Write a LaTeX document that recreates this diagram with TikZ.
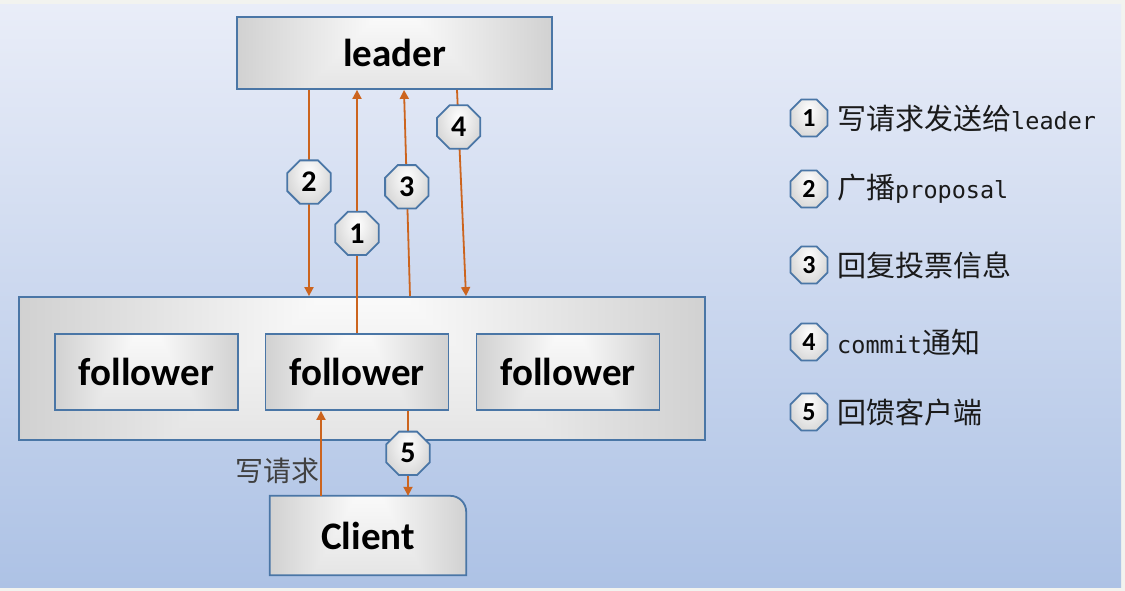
\documentclass[tikz,border=0pt]{standalone}
\usepackage{fontspec}
\setmainfont{Carlito}
\newfontfamily\cjk{Noto Sans CJK SC}
\newfontfamily\mono{DejaVu Sans Mono}
\usetikzlibrary{shapes.geometric,arrows.meta,calc,backgrounds}

\definecolor{pagecol}{RGB}{242,243,239}
\definecolor{paneltop}{RGB}{233,237,248}
\definecolor{panelbot}{RGB}{173,194,229}
\definecolor{edgeblue}{RGB}{74,118,166}
\definecolor{shadegray}{RGB}{166,166,166}
\definecolor{flow}{RGB}{204,100,30}
\definecolor{inktext}{RGB}{26,26,26}

% rectangular "path" gradient: white near the top centre, grey at the sides
% t = min(1, max(|x|/50, |y-38|/220)); grey level = 1 - 0.36 t
\pgfdeclarefunctionalshading{boxglow}{\pgfpoint{-50bp}{-50bp}}{\pgfpoint{50bp}{50bp}}{}{
  38 sub abs 220 div
  exch abs 50 div
  2 copy sub abs 3 1 roll add add 2 div
  dup 1 sub abs neg 1 add add 2 div
  0.36 mul neg 1 add
  dup dup
}

% round highlight for the numbered badges
\pgfdeclareradialshading{glow}{\pgfpoint{0bp}{0bp}}{color(0bp)=(white); color(50bp)=(shadegray)}

\tikzset{
  glowfill/.style args={#1/#2/#3}{path picture={
    \fill[shadegray] (path picture bounding box.south west) rectangle (path picture bounding box.north east);
    \shade[shading=glow] let \p1=(path picture bounding box.south west), \p2=(path picture bounding box.north east) in
      ({0.5*(\x1+\x2)}, {\y2-#3*(\y2-\y1)}) ellipse [x radius={#1*(\x2-\x1)}, y radius={#2*(\y2-\y1)}];
  }},
  box/.style={draw=edgeblue, line width=1.8pt, inner sep=0pt, shade, shading=boxglow},
  bigword/.style={font=\bfseries\fontsize{39}{45}\selectfont, text=black},
  flowline/.style={draw=flow, line width=1.8pt, -{Triangle[length=9pt,width=9pt]}},
  oct/.style={regular polygon, regular polygon sides=8, draw=edgeblue, line width=1.8pt,
    inner sep=0pt, minimum size=47pt, glowfill={0.6/0.85/0.3},
    font=\bfseries\fontsize{30}{34}\selectfont, text=black},
  keyoct/.style={oct, minimum size=40pt, font=\bfseries\fontsize{26}{30}\selectfont},
  keytext/.style={anchor=west, inner sep=0pt, text=inktext, font=\cjk\fontsize{29}{34}\selectfont},
}
\newcommand{\lat}[1]{{\mono\fontsize{23.5}{28}\selectfont #1}}

\begin{document}
\begin{tikzpicture}[x=1pt, y=-1pt]
  \useasboundingbox (0,0) rectangle (1125,591);

  % page and gradient panel
  \begin{pgfonlayer}{background}
    \fill[pagecol] (0,0) rectangle (1125,591);
    \shade[top color=paneltop, bottom color=panelbot] (0,5) rectangle (1121,587);
  \end{pgfonlayer}

  % follower group and its members
  \node[box, minimum width=686pt, minimum height=143pt] (group) at (362,368.5) {};
  \node[box, bigword, minimum width=183pt, minimum height=76pt] (f1) at (146.5,372) {follower};
  \node[box, bigword, minimum width=183pt, minimum height=76pt] (f2) at (357,372) {follower};
  \node[box, bigword, minimum width=183pt, minimum height=76pt] (f3) at (568,372) {follower};

  % leader
  \node[box, bigword, minimum width=315pt, minimum height=72pt] (leader) at (394.5,53) {leader};

  % client with a rounded top-right corner
  \node[bigword, inner sep=0pt, minimum width=196pt, minimum height=79pt] (client) at (368,535.5) {Client};
  \begin{pgfonlayer}{background}
    \draw[box] (client.south west) -- (client.north west)
      -- ([xshift=-16pt]client.north east) arc[start angle=90, end angle=0, radius=16pt]
      -- (client.south east) -- cycle;
  \end{pgfonlayer}

  % x positions of the message lines
  \coordinate (xa) at (309,0);
  \coordinate (xb) at (357,0);
  \coordinate (xc) at (410,0);
  \coordinate (xd) at (404,0);
  \coordinate (xe) at (457,0);
  \coordinate (xf) at (466,0);
  \coordinate (xg) at (321,0);
  \coordinate (xh) at (408,0);

  % message flow
  \draw[flowline] (leader.south -| xa) -- node[oct, pos=0.447] (m2) {2} (group.north -| xa);
  \draw[flowline] (f2.north -| xb) -- node[oct, pos=0.41] (m1) {1} (leader.south -| xb);
  \draw[flowline] (group.north -| xc) -- node[oct, pos=0.53] (m3) {3} (leader.south -| xd);
  \draw[flowline] (leader.south -| xe) -- node[oct, pos=0.18] (m4) {4} (group.north -| xf);
  \draw[flowline] (client.north -| xg) -- (f2.south -| xg);
  \draw[flowline] (f2.south -| xh) -- node[oct, pos=0.5] (m5) {5} (client.north -| xh);
  \node[font=\cjk\fontsize{28}{32}\selectfont, text=black!75, inner sep=0pt] (req) at (277,471) {写请求};

  % key
  \node[keyoct] (k1) at (809,118) {1};
  \node[keytext] (t1) at (837,118) {写请求发送给\lat{leader}};
  \node[keyoct] (k2) at (809,189) {2};
  \node[keytext] (t2) at (837,189) {广播\lat{proposal}};
  \node[keyoct] (k3) at (809,265) {3};
  \node[keytext] (t3) at (837,265) {回复投票信息};
  \node[keyoct] (k4) at (809,342) {4};
  \node[keytext] (t4) at (837,342) {\lat{commit}通知};
  \node[keyoct] (k5) at (809,412) {5};
  \node[keytext] (t5) at (837,412) {回馈客户端};
\end{tikzpicture}
\end{document}
